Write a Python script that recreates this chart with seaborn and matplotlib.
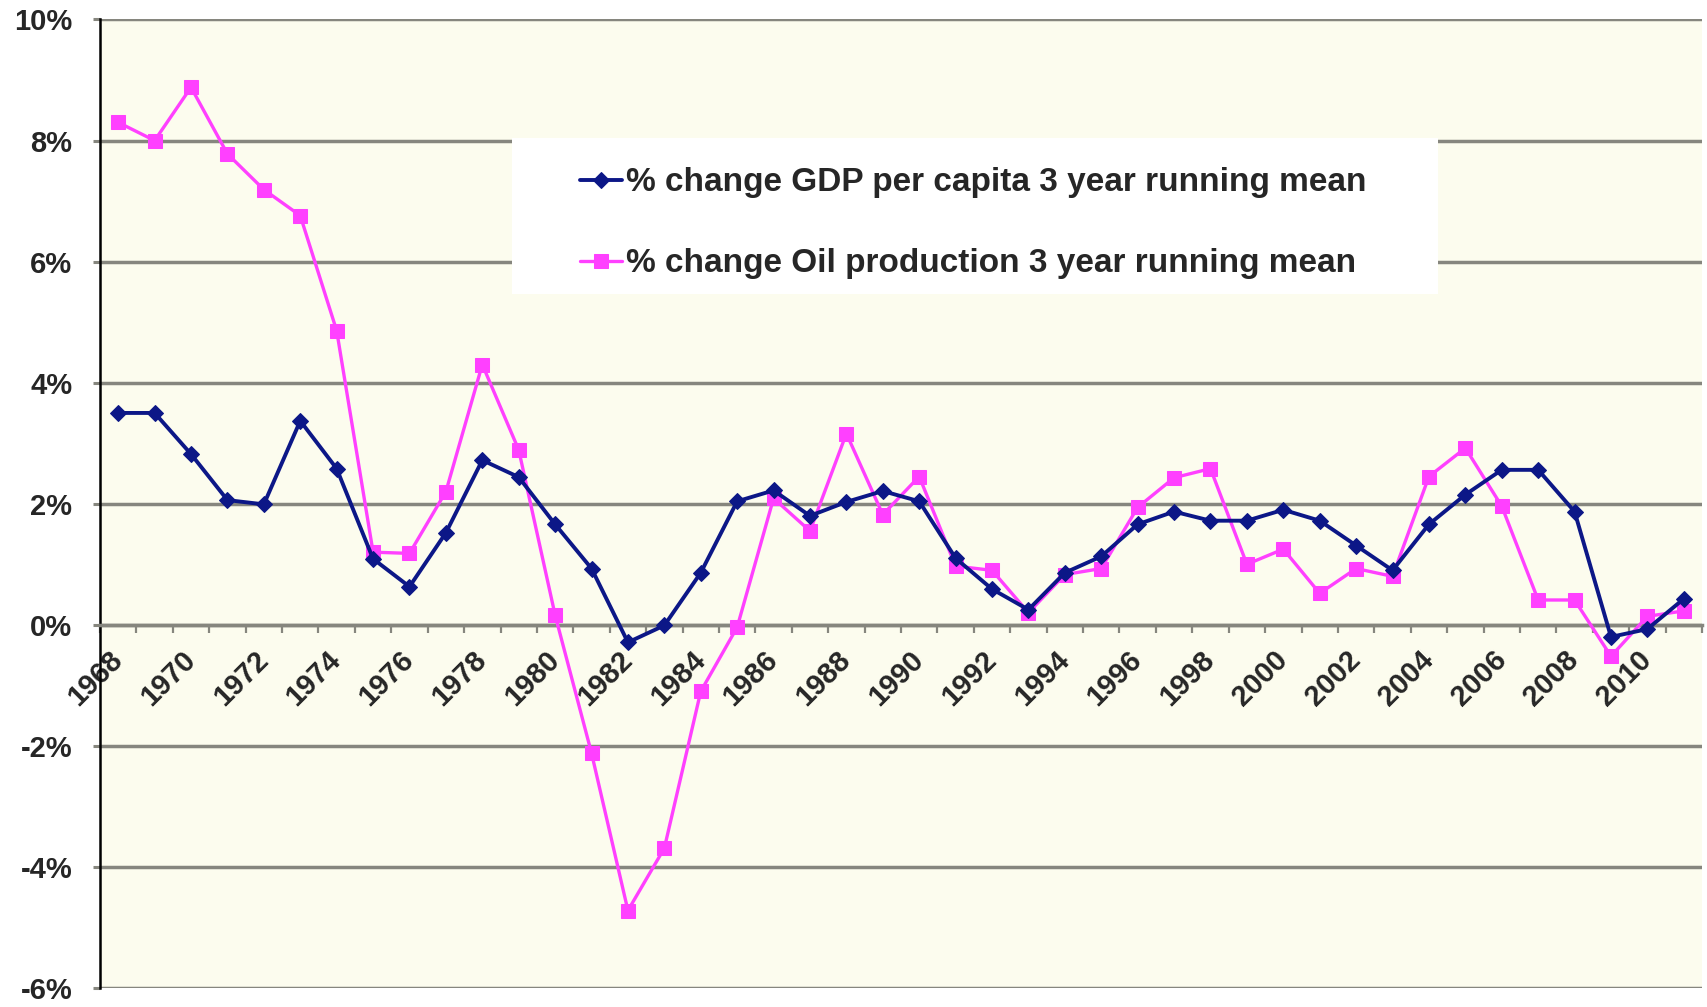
import numpy as np
import pandas as pd
import matplotlib
matplotlib.use("Agg")
import matplotlib.pyplot as plt
from matplotlib.patches import Rectangle
import seaborn as sns

# Years on the category axis
years = list(range(1968, 2012))

# % change GDP per capita, 3 year running mean
gdp = [3.50, 3.50, 2.82, 2.06, 1.99, 3.37, 2.58, 1.09, 0.63, 1.52,
       2.72, 2.44, 1.66, 0.93, -0.29, -0.01, 0.86, 2.04, 2.22, 1.80,
       2.03, 2.21, 2.04, 1.10, 0.59, 0.25, 0.86, 1.13, 1.66, 1.87,
       1.72, 1.72, 1.90, 1.72, 1.31, 0.90, 1.66, 2.15, 2.56, 2.56,
       1.87, -0.20, -0.07, 0.43]

# % change Oil production, 3 year running mean
oil = [8.30, 8.00, 8.88, 7.78, 7.19, 6.76, 4.86, 1.20, 1.18, 2.20,
       4.30, 2.89, 0.16, -2.12, -4.72, -3.69, -1.10, -0.04, 2.09, 1.55,
       3.16, 1.82, 2.45, 0.97, 0.90, 0.20, 0.83, 0.93, 1.94, 2.43,
       2.58, 1.00, 1.25, 0.52, 0.93, 0.80, 2.45, 2.92, 1.96, 0.41,
       0.41, -0.52, 0.14, 0.23]

ytick_values = [10, 8, 6, 4, 2, 0, -2, -4, -6]
ytick_labels = ["10%", "8%", "6%", "4%", "2%", "0%", "-2%", "-4%", "-6%"]
xtick_years = years[::2]

gdp_label = "% change GDP per capita 3 year running mean"
oil_label = "% change Oil production 3 year running mean"

sns.set_style("white")
plt.rcParams['font.family'] = ['Liberation Sans', 'DejaVu Sans']
plt.rcParams['font.weight'] = 'bold'

fig = plt.figure(figsize=(17.08, 10.07), dpi=100)
ax = fig.add_axes([0.05855, 0.01887, 0.93794, 0.96177])
ax.set_facecolor("#FCFCEE")

grid_col = "#86867e"
for v in ytick_values:
    ax.axhline(v, color=grid_col, lw=2.5, zorder=1)

# white legend box
ax.add_patch(Rectangle((0.2572, 0.7166), 0.578, 0.161, transform=ax.transAxes,
                       facecolor="white", edgecolor="none", zorder=1.5))

df = pd.DataFrame({"year": years, "gdp": gdp, "oil": oil})

sns.lineplot(data=df, x="year", y="gdp", ax=ax, color="#0c1787", lw=2.8,
             marker="D", markersize=8, markeredgecolor="#0c1787",
             label=gdp_label, zorder=4)
sns.lineplot(data=df, x="year", y="oil", ax=ax, color="#ff40ff", lw=2.4,
             marker="s", markersize=10.5, markeredgecolor="#ff40ff",
             label=oil_label, zorder=3)

ax.set_xlim(years[0] - 0.5, years[-1] + 0.5)
ax.set_ylim(-6, 10)
ax.set_xlabel("")
ax.set_ylabel("")

ax.spines["bottom"].set_position(("data", 0))
ax.spines["bottom"].set_color(grid_col)
ax.spines["bottom"].set_linewidth(2.5)
ax.spines["left"].set_color("black")
ax.spines["left"].set_linewidth(1.8)
ax.spines["top"].set_visible(False)
ax.spines["right"].set_visible(False)

ax.set_yticks(ytick_values, ytick_labels)
ax.tick_params(axis="y", length=5, width=2.2, color=grid_col, pad=15, left=True,
               labelsize=21)

ax.set_xticks(np.arange(years[0] - 0.5, years[-1] + 1.0, 1.0), minor=True)
ax.tick_params(axis="x", which="minor", length=6, width=1.6, color=grid_col,
               bottom=True, direction="out")
ax.tick_params(axis="x", which="major", length=0, pad=22, labelsize=21,
               labelrotation=45)
ax.set_xticks(xtick_years, [str(y) for y in xtick_years])
for lab in ax.get_xticklabels():
    lab.set_ha("right")
    lab.set_va("center")
    lab.set_rotation_mode("anchor")
    lab.set_fontweight("bold")
for lab in ax.get_yticklabels():
    lab.set_fontweight("bold")

ax.legend(loc="center", bbox_to_anchor=(0.545, 0.7895), frameon=False,
          handlelength=1.25, handletextpad=0.12, labelspacing=1.5,
          prop={"weight": "bold", "size": 24})

fig.savefig("out.png", dpi=100, facecolor="white")
